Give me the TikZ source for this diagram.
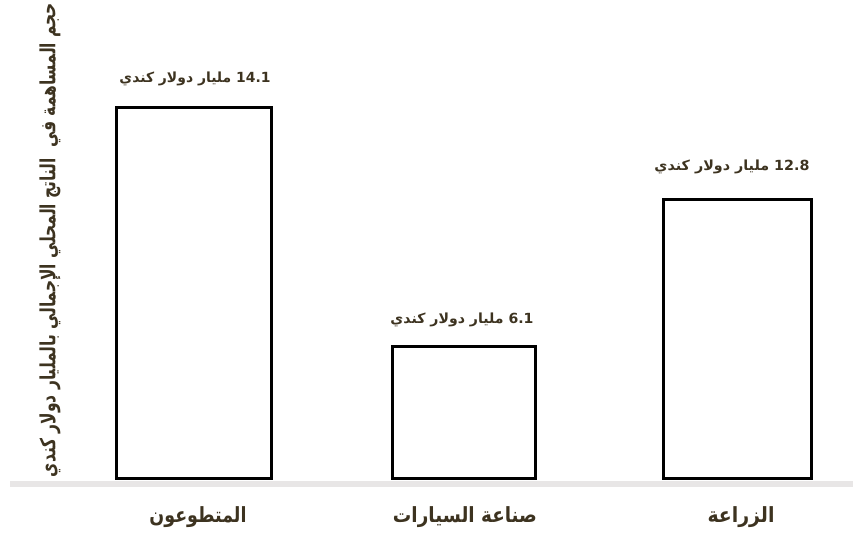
\documentclass[tikz,border=0pt]{standalone}
\usepackage{fontspec}
\setmainfont{Liberation Sans}
\newfontfamily\arabicfont[Script=Arabic]{DejaVu Sans}
\TeXXeTstate=1
\definecolor{txt}{HTML}{3D3320}
\definecolor{axisgray}{HTML}{E8E6E6}
\tikzset{
  barbox/.style={draw=black, fill=white, line width=3bp, inner sep=0pt, anchor=south},
  vallabel/.style={text=txt, inner sep=0pt, font=\arabicfont\bfseries},
  catlabel/.style={text=txt, inner sep=0pt, font=\arabicfont\bfseries},
  axislabel/.style={text=txt, inner sep=0pt, font=\arabicfont\bfseries, rotate=90},
}
\begin{document}
\begin{tikzpicture}[x=1bp, y=-1bp]
\useasboundingbox (0,0) rectangle (854,539);
% axis
\coordinate (axL) at (10,484);
\coordinate (axR) at (853,484);
\draw[axisgray, line width=6bp] (axL) -- (axR);
% bars
\node[barbox, minimum width=155bp, minimum height=370.5bp] (b1) at (194,480) {};
\node[barbox, minimum width=142.5bp, minimum height=131.5bp] (b2) at (464,480) {};
\node[barbox, minimum width=148bp, minimum height=278.5bp] (b3) at (737.5,480) {};
% value labels
\node[vallabel] (v1) at (195,79) {\resizebox*{151bp}{14bp}{\beginR\beginL 14.1\endL\ مليار دولار كندي\endR}};
\node[vallabel] (v2) at (462,320) {\resizebox*{143bp}{14bp}{\beginR\beginL 6.1\endL\ مليار دولار كندي\endR}};
\node[vallabel] (v3) at (732,167) {\resizebox*{155bp}{14bp}{\beginR\beginL 12.8\endL\ مليار دولار كندي\endR}};
% category labels
\node[catlabel] (c1) at (198,517) {\resizebox*{97bp}{21bp}{\beginR المتطوعون\endR}};
\node[catlabel] (c2) at (465,517) {\resizebox*{144bp}{21bp}{\beginR صناعة السيارات\endR}};
\node[catlabel] (c3) at (741,517) {\resizebox*{67bp}{21bp}{\beginR الزراعة\endR}};
% axis title
\node[axislabel] (yt) at (50,240) {\resizebox*{474bp}{21bp}{\beginR حجم المساهمة في\ \ الناتج المحلي الإجمالي بالمليار دولار كندي\endR}};
\end{tikzpicture}
\end{document}
